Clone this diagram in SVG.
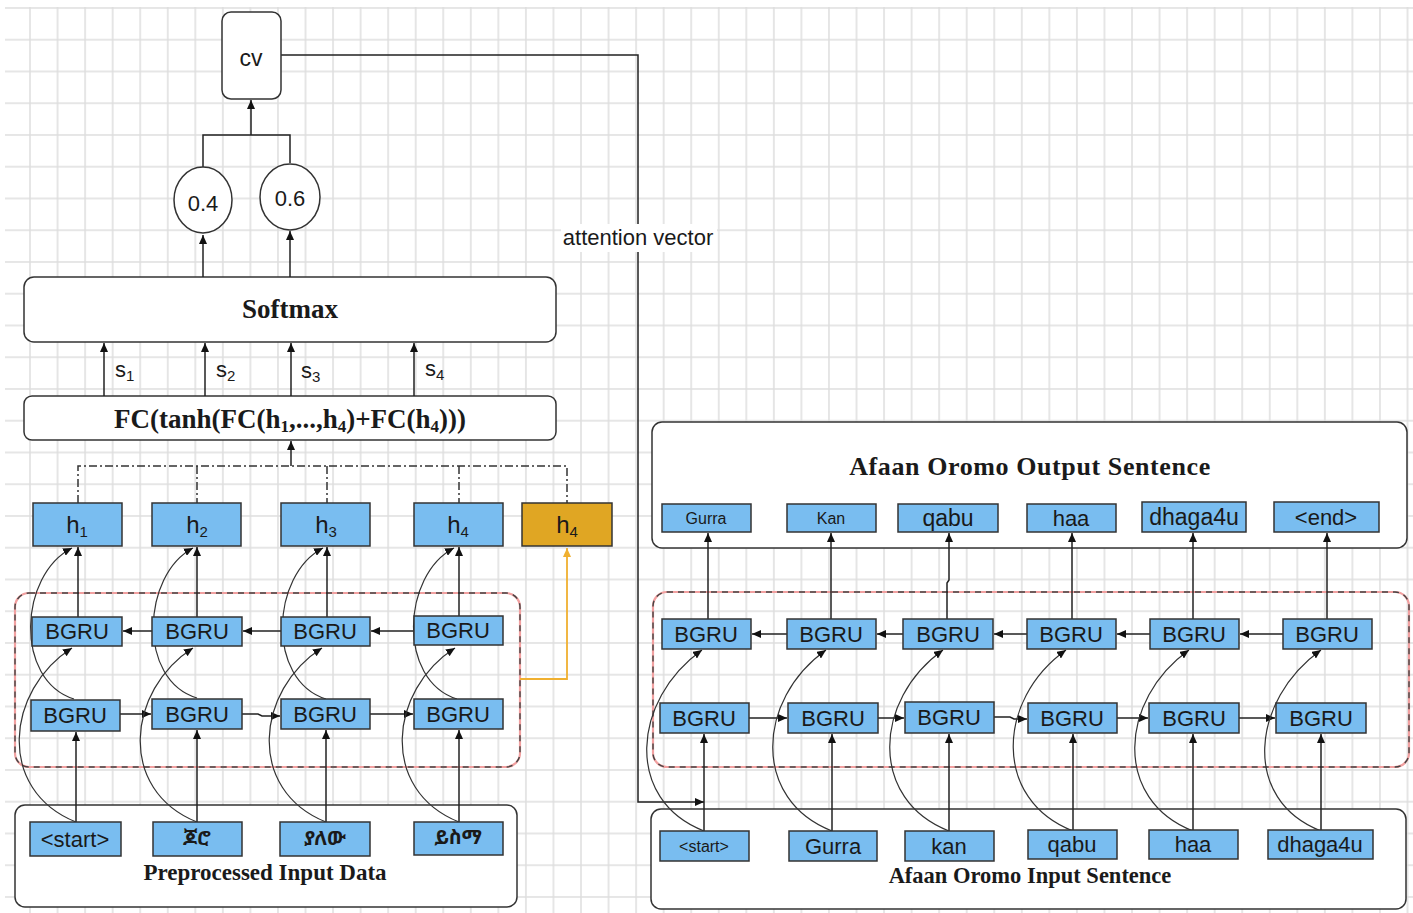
<svg xmlns="http://www.w3.org/2000/svg" width="1413" height="913" viewBox="0 0 1413 913">
<defs>
<pattern id="grid" patternUnits="userSpaceOnUse" x="-11.3" y="-7.9" width="27.55" height="31.75">
<path d="M0,15.875 H27.55 M13.775,0 V31.75" fill="none" stroke="#dedede" stroke-width="1.5"/>
</pattern>
<marker id="ah" markerUnits="userSpaceOnUse" markerWidth="9" markerHeight="8" refX="9" refY="4" orient="auto">
<path d="M0,0 L9,4 L0,8 Z" fill="#111"/>
</marker>
<marker id="ao" markerUnits="userSpaceOnUse" markerWidth="9" markerHeight="8" refX="9" refY="4" orient="auto">
<path d="M0,0 L9,4 L0,8 Z" fill="#f0b030"/>
</marker>
<style>
.panel{fill:#fff;stroke:#333;stroke-width:1.5}
.box{fill:#79bdf0;stroke:#333;stroke-width:1.5}
.obox{fill:#e0a623;stroke:#333;stroke-width:1.5}
.red{fill:none;stroke:#f2a0a0;stroke-width:2.2}
.redd{fill:none;stroke:#444;stroke-width:1.4;stroke-dasharray:6 5}
.ln{fill:none;stroke:#222;stroke-width:1.5}
.ar{marker-end:url(#ah)}
.cur{fill:none;stroke:#333;stroke-width:1.2;marker-end:url(#ah)}
.dd{fill:none;stroke:#333;stroke-width:1.5;stroke-dasharray:8 3 2 3}
.or{fill:none;stroke:#f0b030;stroke-width:1.8;marker-end:url(#ao)}
.t{font-family:"Liberation Sans",Arial,sans-serif;fill:#1a1a1a;text-anchor:middle}
.b{font-family:"Liberation Serif","Times New Roman",serif;font-weight:bold;fill:#1a1a1a;text-anchor:middle}
.g{font-size:22px}
.et{font-family:"Noto Sans Ethiopic","Abyssinica SIL","FreeSerif","DejaVu Sans",sans-serif;font-weight:bold;font-size:20px;fill:#1a1a1a;text-anchor:middle}
</style>
</defs>
<rect x="5" y="7" width="1408" height="906" fill="url(#grid)"/>

<g id="panels">
<rect id="softmax" class="panel" x="24" y="277" width="532" height="65" rx="10"/>
<rect id="fc" class="panel" x="24" y="396" width="532" height="44" rx="8"/>
<rect id="input-left" class="panel" x="15" y="805" width="502" height="102" rx="10"/>
<rect id="output-right" class="panel" x="652" y="422" width="755" height="126" rx="10"/>
<rect id="input-right" class="panel" x="651" y="809" width="755" height="100" rx="10"/>
<g id="encoder-frame"><rect class="red" x="15" y="593" width="505" height="174" rx="14"/><rect class="redd" x="15" y="593" width="505" height="174" rx="14"/></g>
<g id="decoder-frame"><rect class="red" x="653" y="592" width="756" height="175" rx="14"/><rect class="redd" x="653" y="592" width="756" height="175" rx="14"/></g>
</g>

<g id="connectors">
<path class="ln ar" d="M251,135 V100"/>
<path class="ln" d="M203,167 V135 H290 V163"/>
<path class="ln ar" d="M203,277 V235"/>
<path class="ln ar" d="M290,277 V231"/>
<path class="ln ar" d="M104,396 V343"/>
<path class="ln ar" d="M205,396 V343"/>
<path class="ln ar" d="M291,396 V343"/>
<path class="ln ar" d="M414,396 V343"/>
<path class="ln ar" d="M291,466 V441"/>
<path class="dd" d="M78,503 V466 H567 V503 M197,466 V503 M327,466 V503 M459,466 V503"/>
<path class="ln ar" d="M78,617 V547"/>
<path class="ln ar" d="M197,617 V547"/>
<path class="ln ar" d="M327,617 V547"/>
<path class="ln ar" d="M459,616 V547"/>
<path class="ln ar" d="M152,631 H123"/>
<path class="ln ar" d="M281,631 H243"/>
<path class="ln ar" d="M414,631 H371"/>
<path class="ln ar" d="M120,714 H151"/>
<path class="ln ar" d="M242,714 H258 L262,716 H280"/>
<path class="ln ar" d="M370,714 H413"/>
<path class="ln ar" d="M76,822 V732"/>
<path class="ln ar" d="M197,822 V730"/>
<path class="ln ar" d="M326,822 V730"/>
<path class="ln ar" d="M459,822 V730"/>
<path class="cur" d="M74,699 C14,680 19,575 72,548"/>
<path class="cur" d="M197,698 C137,680 142,575 193,548"/>
<path class="cur" d="M326,699 C266,680 271,575 323,548"/>
<path class="cur" d="M457,699 C397,680 402,575 454,548"/>
<path class="cur" d="M76,822 C-4,790 6,690 72,648"/>
<path class="cur" d="M197,822 C117,790 127,690 193,648"/>
<path class="cur" d="M326,822 C246,790 256,690 322,648"/>
<path class="cur" d="M459,822 C379,790 389,690 455,648"/>
<path class="or" d="M520,679 H567 V548"/>
<path class="ln ar" d="M281,55 H638 V802 H704"/>
<path class="ln ar" d="M708,619 V533"/>
<path class="ln ar" d="M831,619 V533"/>
<path class="ln ar" d="M947,619 V583 L949,580 V533"/>
<path class="ln ar" d="M1072,619 V533"/>
<path class="ln ar" d="M1193,619 V533"/>
<path class="ln ar" d="M1327,619 V533"/>
<path class="ln ar" d="M787,634 H752"/>
<path class="ln ar" d="M903,634 H877"/>
<path class="ln ar" d="M1027,634 H994"/>
<path class="ln ar" d="M1150,634 H1117"/>
<path class="ln ar" d="M1283,634 H1240"/>
<path class="ln ar" d="M749,718 H787"/>
<path class="ln ar" d="M878,718 H904"/>
<path class="ln ar" d="M994,717 H1010 L1014,719 H1027"/>
<path class="ln ar" d="M1117,718 H1148"/>
<path class="ln ar" d="M1239,718 H1275"/>
<path class="ln ar" d="M704,831 V734"/>
<path class="ln ar" d="M832,831 V734"/>
<path class="ln ar" d="M949,831 V734"/>
<path class="ln ar" d="M1073,831 V734"/>
<path class="ln ar" d="M1193,831 V734"/>
<path class="ln ar" d="M1321,831 V734"/>
<path class="cur" d="M704,831 C624,800 632,700 702,650"/>
<path class="cur" d="M832,831 C752,800 756,700 826,650"/>
<path class="cur" d="M949,831 C869,800 873,700 943,650"/>
<path class="cur" d="M1073,831 C993,800 996,700 1066,650"/>
<path class="cur" d="M1193,831 C1113,800 1119,700 1189,650"/>
<path class="cur" d="M1321,831 C1241,800 1251,700 1321,650"/>
<rect x="561" y="224" width="156" height="28" fill="#fff"/>
<text class="t" x="638" y="245" font-size="22">attention vector</text>
</g>

<g id="top-nodes">
<g id="cv"><rect class="panel" x="222" y="12" width="59" height="87" rx="9"/><text class="t" x="251" y="66" font-size="23">cv</text></g>
<g id="p04"><ellipse class="panel" cx="203" cy="200" rx="29" ry="33"/><text class="t g" x="203" y="211">0.4</text></g>
<g id="p06"><ellipse class="panel" cx="290" cy="197" rx="30" ry="33"/><text class="t g" x="290" y="206">0.6</text></g>
<g id="softmax-label"><text class="b" x="290" y="318" font-size="27">Softmax</text></g>
<g id="fc-label"><text class="b" x="290" y="428" font-size="27">FC(tanh(FC(h<tspan font-size="17" dy="4">1</tspan><tspan dy="-4">,...,h</tspan><tspan font-size="17" dy="4">4</tspan><tspan dy="-4">)+FC(h</tspan><tspan font-size="17" dy="4">4</tspan><tspan dy="-4">)))</tspan></text></g>
<g id="s-labels">
<text class="t" x="115" y="377" font-size="22" text-anchor="start" style="text-anchor:start">s<tspan font-size="15" dy="4">1</tspan></text>
<text class="t" x="216" y="377" font-size="22" style="text-anchor:start">s<tspan font-size="15" dy="4">2</tspan></text>
<text class="t" x="301" y="378" font-size="22" style="text-anchor:start">s<tspan font-size="15" dy="4">3</tspan></text>
<text class="t" x="425" y="376" font-size="22" style="text-anchor:start">s<tspan font-size="15" dy="4">4</tspan></text>
</g>
</g>

<g id="h-nodes">
<g id="h1"><rect class="box" x="33" y="503" width="89" height="43"/><text class="t" x="77" y="533" font-size="24">h<tspan font-size="15" dy="4">1</tspan></text></g>
<g id="h2"><rect class="box" x="152" y="503" width="89" height="43"/><text class="t" x="197" y="533" font-size="24">h<tspan font-size="15" dy="4">2</tspan></text></g>
<g id="h3"><rect class="box" x="281" y="503" width="89" height="43"/><text class="t" x="326" y="533" font-size="24">h<tspan font-size="15" dy="4">3</tspan></text></g>
<g id="h4"><rect class="box" x="414" y="503" width="89" height="43"/><text class="t" x="458" y="533" font-size="24">h<tspan font-size="15" dy="4">4</tspan></text></g>
<g id="h4-last"><rect class="obox" x="522" y="503" width="90" height="43"/><text class="t" x="567" y="533" font-size="24">h<tspan font-size="15" dy="4">4</tspan></text></g>
</g>

<g id="encoder">
<g id="enc-b1"><rect class="box" x="32" y="617" width="90" height="29"/><text class="t g" x="77" y="639">BGRU</text></g>
<g id="enc-b2"><rect class="box" x="152" y="617" width="90" height="29"/><text class="t g" x="197" y="639">BGRU</text></g>
<g id="enc-b3"><rect class="box" x="281" y="617" width="89" height="29"/><text class="t g" x="325" y="639">BGRU</text></g>
<g id="enc-b4"><rect class="box" x="414" y="616" width="89" height="29"/><text class="t g" x="458" y="638">BGRU</text></g>
<g id="enc-f1"><rect class="box" x="31" y="700" width="89" height="31"/><text class="t g" x="75" y="723">BGRU</text></g>
<g id="enc-f2"><rect class="box" x="152" y="699" width="90" height="30"/><text class="t g" x="197" y="722">BGRU</text></g>
<g id="enc-f3"><rect class="box" x="281" y="699" width="89" height="30"/><text class="t g" x="325" y="722">BGRU</text></g>
<g id="enc-f4"><rect class="box" x="414" y="699" width="89" height="30"/><text class="t g" x="458" y="722">BGRU</text></g>
</g>

<g id="input-left-tokens">
<g id="in-start"><rect class="box" x="30" y="822" width="91" height="34"/><text class="t g" x="75" y="847">&lt;start&gt;</text></g>
<g id="in-w1"><rect class="box" x="153" y="822" width="89" height="34"/><text class="et" x="197" y="845">ጆሮ</text></g>
<g id="in-w2"><rect class="box" x="280" y="822" width="90" height="34"/><text class="et" x="325" y="845">ያለው</text></g>
<g id="in-w3"><rect class="box" x="414" y="822" width="89" height="33"/><text class="et" x="458" y="844">ይስማ</text></g>
<text class="b" x="265" y="880" font-size="23">Preprocessed Input Data</text>
</g>

<g id="output-tokens">
<text class="b" x="1030" y="475" font-size="26" letter-spacing="0.6">Afaan Oromo Output Sentence</text>
<g id="out-gurra"><rect class="box" x="662" y="504" width="89" height="28"/><text class="t" x="706" y="524" font-size="16">Gurra</text></g>
<g id="out-kan"><rect class="box" x="787" y="504" width="89" height="28"/><text class="t" x="831" y="524" font-size="16">Kan</text></g>
<g id="out-qabu"><rect class="box" x="898" y="504" width="100" height="28"/><text class="t" x="948" y="526" font-size="23">qabu</text></g>
<g id="out-haa"><rect class="box" x="1027" y="504" width="89" height="28"/><text class="t" x="1071" y="526" font-size="22">haa</text></g>
<g id="out-dhaga4u"><rect class="box" x="1142" y="502" width="104" height="30"/><text class="t" x="1194" y="525" font-size="23">dhaga4u</text></g>
<g id="out-end"><rect class="box" x="1274" y="502" width="105" height="30"/><text class="t" x="1326" y="525" font-size="22">&lt;end&gt;</text></g>
</g>

<g id="decoder">
<g id="dec-b1"><rect class="box" x="662" y="619" width="89" height="30"/><text class="t g" x="706" y="642">BGRU</text></g>
<g id="dec-b2"><rect class="box" x="787" y="619" width="89" height="30"/><text class="t g" x="831" y="642">BGRU</text></g>
<g id="dec-b3"><rect class="box" x="903" y="619" width="90" height="30"/><text class="t g" x="948" y="642">BGRU</text></g>
<g id="dec-b4"><rect class="box" x="1027" y="619" width="89" height="30"/><text class="t g" x="1071" y="642">BGRU</text></g>
<g id="dec-b5"><rect class="box" x="1150" y="619" width="89" height="30"/><text class="t g" x="1194" y="642">BGRU</text></g>
<g id="dec-b6"><rect class="box" x="1283" y="619" width="89" height="30"/><text class="t g" x="1327" y="642">BGRU</text></g>
<g id="dec-f1"><rect class="box" x="660" y="703" width="89" height="30"/><text class="t g" x="704" y="726">BGRU</text></g>
<g id="dec-f2"><rect class="box" x="788" y="703" width="90" height="30"/><text class="t g" x="833" y="726">BGRU</text></g>
<g id="dec-f3"><rect class="box" x="905" y="702" width="89" height="31"/><text class="t g" x="949" y="725">BGRU</text></g>
<g id="dec-f4"><rect class="box" x="1028" y="703" width="89" height="30"/><text class="t g" x="1072" y="726">BGRU</text></g>
<g id="dec-f5"><rect class="box" x="1149" y="703" width="90" height="30"/><text class="t g" x="1194" y="726">BGRU</text></g>
<g id="dec-f6"><rect class="box" x="1276" y="703" width="90" height="30"/><text class="t g" x="1321" y="726">BGRU</text></g>
</g>

<g id="input-right-tokens">
<g id="rin-start"><rect class="box" x="660" y="831" width="89" height="30"/><text class="t" x="704" y="852" font-size="16">&lt;start&gt;</text></g>
<g id="rin-gurra"><rect class="box" x="789" y="831" width="88" height="30"/><text class="t" x="833" y="854" font-size="22">Gurra</text></g>
<g id="rin-kan"><rect class="box" x="905" y="831" width="89" height="30"/><text class="t" x="949" y="854" font-size="22">kan</text></g>
<g id="rin-qabu"><rect class="box" x="1028" y="830" width="89" height="29"/><text class="t" x="1072" y="852" font-size="22">qabu</text></g>
<g id="rin-haa"><rect class="box" x="1149" y="830" width="89" height="29"/><text class="t" x="1193" y="852" font-size="22">haa</text></g>
<g id="rin-dhaga4u"><rect class="box" x="1268" y="830" width="105" height="29"/><text class="t" x="1320" y="852" font-size="22">dhaga4u</text></g>
<text class="b" x="1030" y="883" font-size="22.5">Afaan Oromo Input Sentence</text>
</g>
</svg>
